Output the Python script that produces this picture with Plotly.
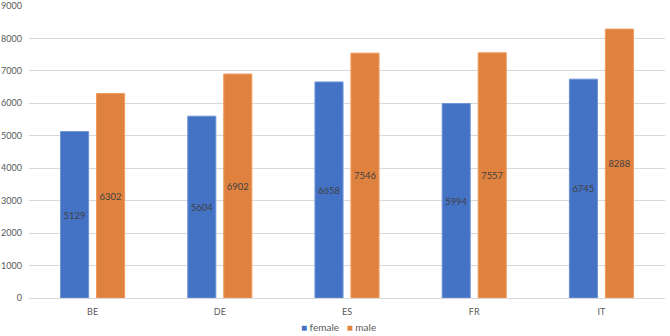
import plotly.graph_objects as go

countries = ["BE", "DE", "ES", "FR", "IT"]
female = [5129, 5604, 6658, 5994, 6745]
male = [6302, 6902, 7546, 7557, 8288]
y_ticks = [0, 1000, 2000, 3000, 4000, 5000, 6000, 7000, 8000, 9000]
series_names = ["female", "male"]

BLUE = "#4472C4"
ORANGE = "#E0823F"
colors = [BLUE, ORANGE]

fig = go.Figure()
fig.add_trace(go.Bar(
    x=countries, y=female, name=series_names[0], showlegend=False,
    marker=dict(color=BLUE, line=dict(color="#6E93D6", width=1)),
    text=[str(v) for v in female], textposition="inside", insidetextanchor="middle",
    textfont=dict(color="#404040", size=10), textangle=0,
))
fig.add_trace(go.Bar(
    x=countries, y=male, name=series_names[1], showlegend=False,
    marker=dict(color=ORANGE, line=dict(color="#F09A5A", width=1)),
    text=[str(v) for v in male], textposition="inside", insidetextanchor="middle",
    textfont=dict(color="#404040", size=10), textangle=0,
))

legend_text = "&nbsp;&nbsp;&nbsp;".join(
    f'<span style="color:{c};font-size:10px">■</span>&nbsp;{n}' for n, c in zip(series_names, colors)
)
fig.add_annotation(
    text=legend_text, xref="paper", yref="paper", x=0.487, y=-0.098,
    xanchor="center", yanchor="middle", showarrow=False,
    font=dict(size=10, color="#595959"),
)

fig.update_layout(
    width=670, height=336,
    margin=dict(l=29, r=5, t=6, b=38, autoexpand=False),
    paper_bgcolor="white", plot_bgcolor="white",
    barmode="group", bargap=0.434, bargroupgap=0.22,
    font=dict(family="Lato, Open Sans, sans-serif", color="#595959", size=9),
    uniformtext=dict(minsize=8, mode="show"),
    showlegend=False,
    xaxis=dict(showgrid=False, showline=False, ticks="", automargin=False,
               ticklabelstandoff=7,
               tickfont=dict(size=9, color="#595959")),
    yaxis=dict(range=[0, 9000], tickvals=y_ticks, showgrid=True, gridcolor="#D9D9D9",
               gridwidth=1, zeroline=True, zerolinecolor="#D9D9D9", zerolinewidth=1,
               showline=False, ticks="", ticklabelstandoff=6, automargin=False,
               ticklabeloverflow="allow",
               tickfont=dict(size=9, color="#595959")),
)

fig.write_html("out.html")
